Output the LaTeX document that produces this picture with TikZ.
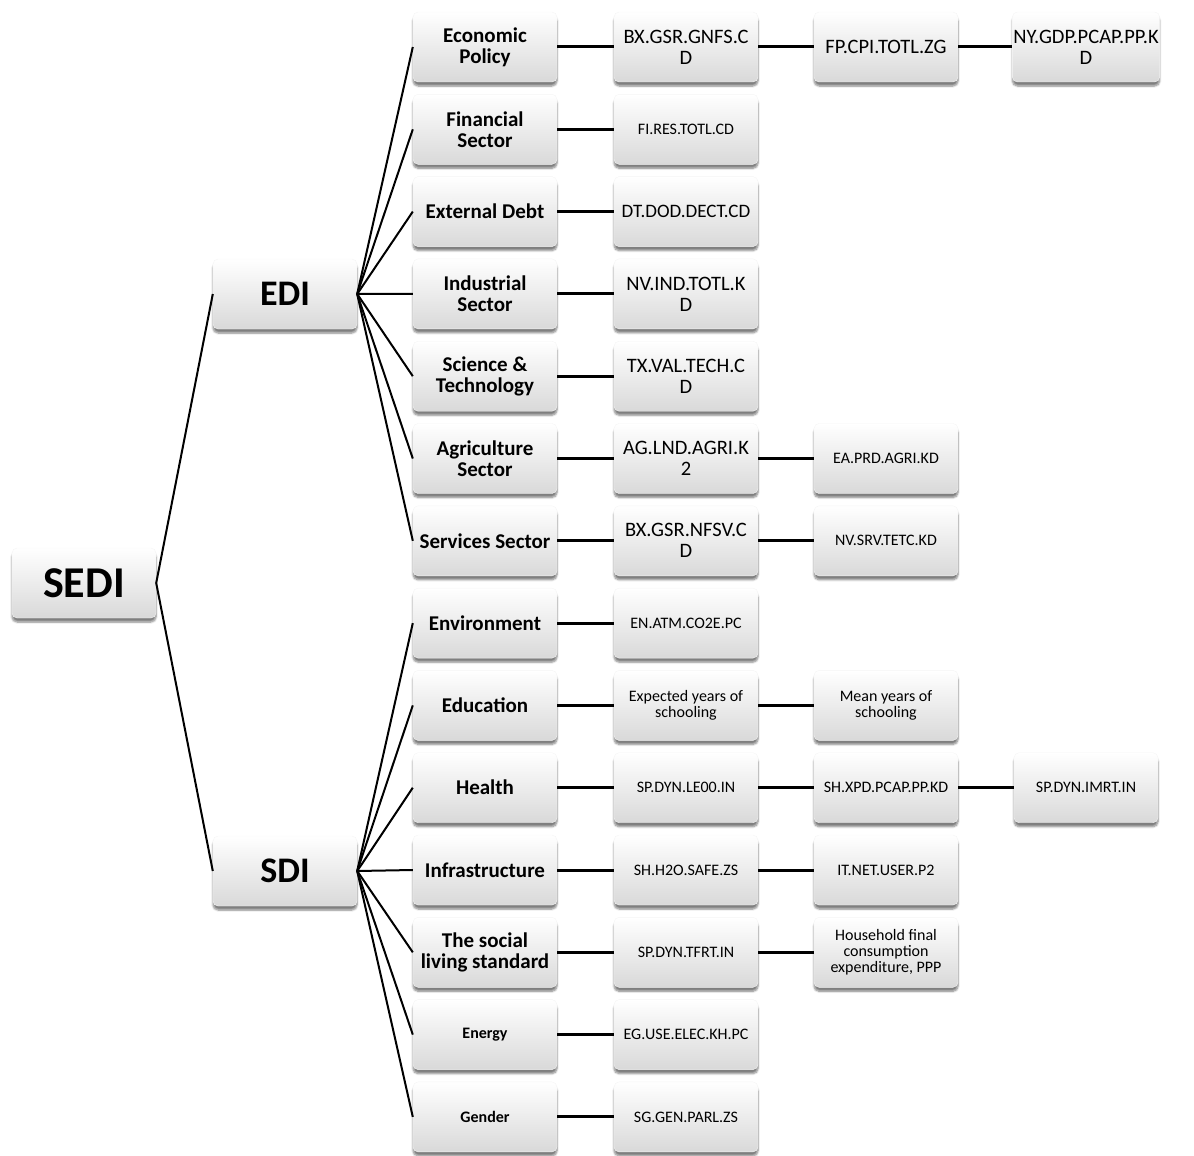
\documentclass[tikz,border=0pt]{standalone}
\usepackage{fontspec}
\setmainfont{Carlito}
\usetikzlibrary{shadows.blur}
\tikzset{
	box/.style={rectangle,rounded corners=5pt,minimum width=144pt,minimum height=70pt,
		inner sep=1pt,align=center,top color=white,bottom color=black!15,draw=black!4,
		blur shadow={shadow xshift=0pt,shadow yshift=-4pt,shadow blur steps=6,shadow opacity=50}},
	root node/.style={box,font=\bfseries\fontsize{44}{44}\selectfont},
	index node/.style={box,font=\bfseries\fontsize{36}{36}\selectfont},
	area node/.style={box,font=\bfseries\fontsize{21}{21}\selectfont},
	small area/.style={box,font=\bfseries\fontsize{16}{16}\selectfont},
	code node/.style={box,font=\fontsize{20.5}{21}\selectfont},
	mid code/.style={box,font=\fontsize{19}{19}\selectfont},
	small code/.style={box,font=\fontsize{16}{16}\selectfont},
	branch/.style={line width=2pt},
	link/.style={line width=3pt}
}

\begin{document}
\begin{tikzpicture}[x=1pt,y=-1pt]
	\useasboundingbox (0,0) rectangle (1194,1156);
	\node [root node] (sedi) at (84,583) {SEDI};
	\node [index node] (edi) at (285,294) {EDI};
	\node [index node] (sdi) at (285,871) {SDI};
	% areas
	\node [area node] (econ) at (485,47) {Economic\\Policy};
	\node [area node] (fin) at (485,129.3) {Financial\\Sector};
	\node [area node] (debt) at (485,211.6) {External Debt};
	\node [area node] (ind) at (485,293.9) {Industrial\\Sector};
	\node [area node] (sci) at (485,376.2) {Science \&\\Technology};
	\node [area node] (agri) at (485,458.5) {Agriculture\\Sector};
	\node [area node] (serv) at (485,540.8) {Services Sector};
	\node [area node] (env) at (485,623.1) {Environment};
	\node [area node] (edu) at (485,705.4) {Education};
	\node [area node] (health) at (485,787.7) {Health};
	\node [area node] (infra) at (485,870) {Infrastructure};
	\node [area node] (living) at (485,952.3) {The social\\living standard};
	\node [small area] (energy) at (485,1034.6) {Energy};
	\node [small area] (gender) at (485,1116.9) {Gender};
	% indicators
	\node [code node] (econ1) at (686,47) {BX.GSR.GNFS.C\\D};
	\node [code node] (econ2) at (886,47) {FP.CPI.TOTL.ZG};
	\node [code node] (econ3) at (1086,47) {NY.GDP.PCAP.PP.K\\D};
	\node [small code] (fin1) at (686,129.3) {FI.RES.TOTL.CD};
	\node [mid code] (debt1) at (686,211.6) {DT.DOD.DECT.CD};
	\node [code node] (ind1) at (686,293.9) {NV.IND.TOTL.K\\D};
	\node [code node] (sci1) at (686,376.2) {TX.VAL.TECH.C\\D};
	\node [code node] (agri1) at (686,458.5) {AG.LND.AGRI.K\\2};
	\node [small code] (agri2) at (886,458.5) {EA.PRD.AGRI.KD};
	\node [code node] (serv1) at (686,540.8) {BX.GSR.NFSV.C\\D};
	\node [small code] (serv2) at (886,540.8) {NV.SRV.TETC.KD};
	\node [small code] (env1) at (686,623.1) {EN.ATM.CO2E.PC};
	\node [small code] (edu1) at (686,705.4) {Expected years of\\schooling};
	\node [small code] (edu2) at (886,705.4) {Mean years of\\schooling};
	\node [small code] (health1) at (686,787.7) {SP.DYN.LE00.IN};
	\node [small code] (health2) at (886,787.7) {SH.XPD.PCAP.PP.KD};
	\node [small code] (health3) at (1086,787.7) {SP.DYN.IMRT.IN};
	\node [small code] (infra1) at (686,870) {SH.H2O.SAFE.ZS};
	\node [small code] (infra2) at (886,870) {IT.NET.USER.P2};
	\node [small code] (living1) at (686,952.3) {SP.DYN.TFRT.IN};
	\node [small code] (living2) at (886,952.3) {Household final\\consumption\\expenditure, PPP};
	\node [small code] (energy1) at (686,1034.6) {EG.USE.ELEC.KH.PC};
	\node [small code] (gender1) at (686,1116.9) {SG.GEN.PARL.ZS};
	% connectors
	\draw [branch] (sedi.east) -- (edi.west);
	\draw [branch] (sedi.east) -- (sdi.west);
	\foreach \a in {econ,fin,debt,ind,sci,agri,serv}
		\draw [branch] (edi.east) -- (\a.west);
	\foreach \a in {env,edu,health,infra,living,energy,gender}
		\draw [branch] (sdi.east) -- (\a.west);
	\foreach \a/\b in {econ/econ1,econ1/econ2,econ2/econ3,fin/fin1,debt/debt1,ind/ind1,sci/sci1,
		agri/agri1,agri1/agri2,serv/serv1,serv1/serv2,env/env1,edu/edu1,edu1/edu2,
		health/health1,health1/health2,health2/health3,infra/infra1,infra1/infra2,
		living/living1,living1/living2,energy/energy1,gender/gender1}
		\draw [link] (\a.east) -- (\b.west);
\end{tikzpicture}
\end{document}
